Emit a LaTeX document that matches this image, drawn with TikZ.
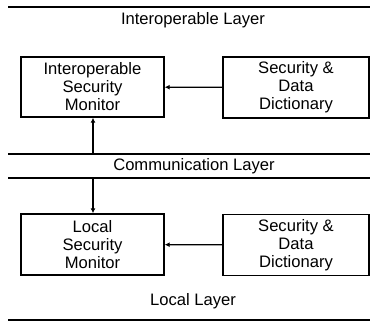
\documentclass[tikz,border=0pt]{standalone}
\usepackage{fontspec}
\setmainfont{Liberation Sans}
\usetikzlibrary{arrows.meta}
\begin{document}
\begin{tikzpicture}[x=1pt,y=-1pt,
    font=\fontsize{16.6}{18}\selectfont,
    unit/.style={draw, line width=1.4pt, align=center, inner sep=0pt},
    layer/.style={line width=1.8pt},
    flow/.style={-{Latex[length=5pt,width=5pt]}, line width=1.3pt}]
    \useasboundingbox (0,0) rectangle (370,322);
    % the layer borders
    \draw[layer] (8,7) -- (370,7);
    \draw[layer] (8,154) -- (370,154);
    \draw[layer] (8,178) -- (370,178);
    \draw[layer] (8,320) -- (370,320);
    % the layer names
    \node (inter) at (193,20) {Interoperable Layer};
    \node (comm) at (194,166) {Communication Layer};
    \node (local) at (193,301) {Local Layer};
    % the boxes
    \node[unit, minimum width=143pt, minimum height=60pt] (ism) at (92.5,87) {Interoperable\\Security\\Monitor};
    \node[unit, minimum width=146pt, minimum height=61pt] (dd1) at (296,87.5) {Security \&\\Data\\Dictionary};
    \node[unit, minimum width=143pt, minimum height=61pt] (lsm) at (92.5,244.5) {Local\\Security\\Monitor};
    \node[unit, minimum width=146pt, minimum height=61pt] (dd2) at (296,245) {Security \&\\Data\\Dictionary};
    % points on the communication layer
    \coordinate (c1) at (93,154);
    \coordinate (c2) at (93,178);
    % draw the arrows
    \draw[flow] (dd1) -- (ism);
    \draw[flow] (dd2) -- (lsm);
    \draw[flow] (c1) -- (c1 |- ism.south);
    \draw[flow] (c2) -- (c2 |- lsm.north);
\end{tikzpicture}
\end{document}
